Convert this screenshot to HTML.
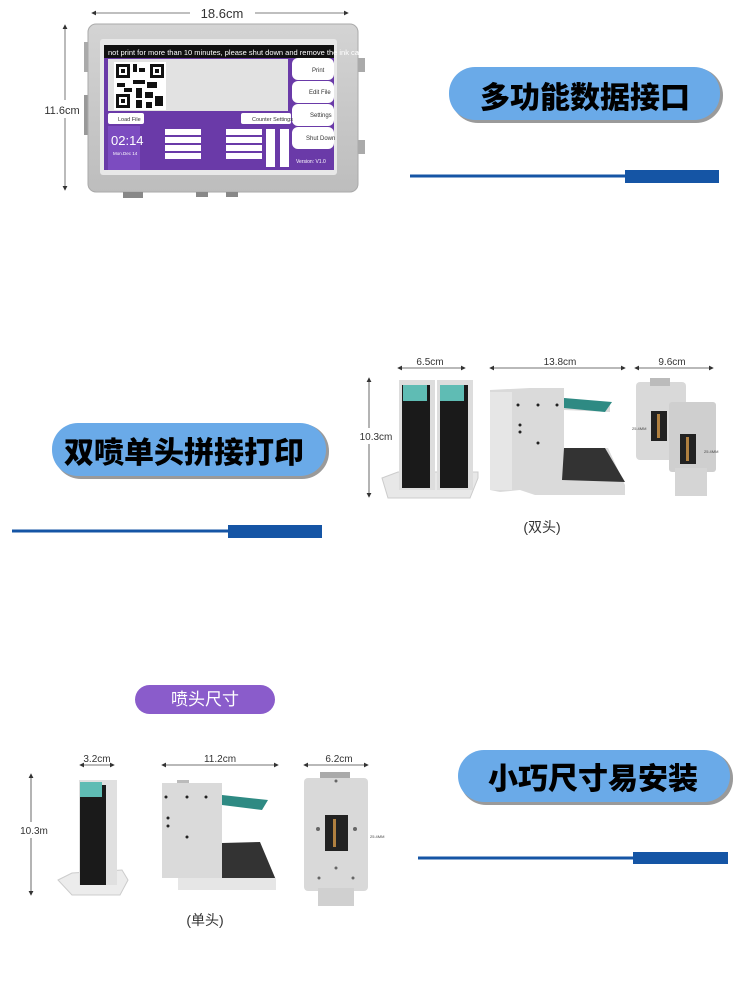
<!DOCTYPE html>
<html><head><meta charset="utf-8"><style>
html,body{margin:0;padding:0;background:#fff;width:750px;height:1000px;overflow:hidden}
svg{display:block}
text{font-family:"Liberation Sans","Noto Sans CJK SC",sans-serif}
.cj{font-family:"Liberation Sans","Noto Sans CJK SC",sans-serif;font-weight:900}
</style></head><body>
<svg width="750" height="1000" viewBox="0 0 750 1000" xmlns="http://www.w3.org/2000/svg">
<defs>
<marker id="ar" markerWidth="6" markerHeight="6" refX="5" refY="3" orient="auto"><path d="M0,0 L6,3 L0,6z" fill="#333"/></marker>
<marker id="al" markerWidth="6" markerHeight="6" refX="1" refY="3" orient="auto"><path d="M6,0 L0,3 L6,6z" fill="#333"/></marker>
<linearGradient id="metal" x1="0" y1="0" x2="0" y2="1"><stop offset="0" stop-color="#d4d4d4"/><stop offset="1" stop-color="#bdbdbd"/></linearGradient>
</defs>

<!-- TOP DEVICE -->
<line x1="92" y1="13" x2="348" y2="13" stroke="#555" stroke-width="0.8" marker-start="url(#al)" marker-end="url(#ar)"/>
<rect x="190" y="4" width="65" height="18" fill="#fff"/>
<text x="222" y="18" font-size="13" text-anchor="middle" fill="#333">18.6cm</text>
<line x1="65" y1="25" x2="65" y2="190" stroke="#555" stroke-width="0.8" marker-start="url(#al)" marker-end="url(#ar)"/>
<rect x="42" y="100" width="44" height="18" fill="#fff"/>
<text x="62" y="114" font-size="11" text-anchor="middle" fill="#333">11.6cm</text>
<rect x="84" y="42" width="8" height="30" fill="#aaa"/>
<rect x="84" y="95" width="8" height="40" fill="#999"/>
<rect x="357" y="58" width="8" height="14" fill="#aaa"/>
<rect x="357" y="140" width="8" height="14" fill="#aaa"/>
<rect x="88" y="24" width="270" height="168" rx="8" fill="url(#metal)" stroke="#aaa"/>
<rect x="100" y="39" width="237" height="136" rx="3" fill="#e8e8e8"/>
<rect x="104" y="45" width="230" height="13" fill="#111"/>
<text x="108" y="55" font-size="7.5" fill="#fff">not print for more than 10 minutes, please shut down and remove the ink ca</text>
<rect x="104" y="58" width="230" height="112" fill="#6a3aa8"/>
<rect x="108" y="59" width="180" height="52" fill="#e2e2e2"/>
<rect x="114" y="62" width="52" height="48" fill="#fff"/>
<g fill="#111">
<rect x="116" y="64" width="14" height="14"/><rect x="119" y="67" width="8" height="8" fill="#fff"/><rect x="121" y="69" width="4" height="4"/>
<rect x="150" y="64" width="14" height="14"/><rect x="153" y="67" width="8" height="8" fill="#fff"/><rect x="155" y="69" width="4" height="4"/>
<rect x="116" y="94" width="14" height="14"/><rect x="119" y="97" width="8" height="8" fill="#fff"/><rect x="121" y="99" width="4" height="4"/>
<rect x="133" y="64" width="4" height="8"/><rect x="139" y="68" width="6" height="4"/><rect x="133" y="80" width="12" height="4"/><rect x="117" y="83" width="8" height="4"/>
<rect x="147" y="82" width="10" height="6"/><rect x="136" y="88" width="6" height="10"/><rect x="145" y="92" width="8" height="6"/><rect x="155" y="96" width="8" height="10"/><rect x="136" y="100" width="6" height="8"/><rect x="146" y="102" width="6" height="6"/><rect x="124" y="88" width="8" height="4"/>
</g>
<rect x="292" y="58" width="42" height="22" rx="6" fill="#fff"/><text x="312" y="72" font-size="6" fill="#333">Print</text>
<rect x="292" y="81" width="42" height="22" rx="6" fill="#fff"/><text x="309" y="94" font-size="6" fill="#333">Edit File</text>
<rect x="292" y="104" width="42" height="22" rx="6" fill="#fff"/><text x="310" y="117" font-size="6" fill="#333">Settings</text>
<rect x="292" y="127" width="42" height="22" rx="6" fill="#fff"/><text x="306" y="140" font-size="6" fill="#333">Shut Down</text>
<rect x="108" y="113" width="36" height="11" rx="2" fill="#fff"/><text x="118" y="121" font-size="5.5" fill="#333">Load File</text>
<rect x="241" y="113" width="50" height="11" rx="2" fill="#fff"/><text x="252" y="121" font-size="5.5" fill="#333">Counter Settings</text>
<rect x="108" y="126" width="32" height="44" fill="#7c4cc0"/>
<text x="111" y="145" font-size="13" fill="#fff">02:14</text>
<text x="113" y="155" font-size="4.5" fill="#fff">Mon.Dec 14</text>
<g fill="#fff">
<rect x="165" y="129" width="36" height="6"/><rect x="165" y="137" width="36" height="6"/><rect x="165" y="145" width="36" height="6"/><rect x="165" y="153" width="36" height="6"/>
<rect x="226" y="129" width="36" height="6"/><rect x="226" y="137" width="36" height="6"/><rect x="226" y="145" width="36" height="6"/><rect x="226" y="153" width="36" height="6"/>
<rect x="266" y="129" width="9" height="38"/><rect x="280" y="129" width="9" height="38"/>
</g>
<text x="296" y="163" font-size="5" fill="#fff">Version: V1.0</text>
<rect x="123" y="192" width="20" height="6" fill="#888"/><rect x="196" y="192" width="12" height="5" fill="#888"/><rect x="226" y="192" width="12" height="5" fill="#888"/>

<!-- Pill 1 -->
<rect x="451" y="68" width="272" height="55" rx="27" fill="#9a9a9a"/>
<rect x="449" y="67" width="271" height="53" rx="26" fill="#6aaae8"/>
<text x="480" y="108" font-size="30" class="cj" fill="#000">多功能数据接口</text>
<line x1="410" y1="176" x2="626" y2="176" stroke="#1555a5" stroke-width="3"/>
<rect x="625" y="170" width="94" height="13" fill="#1555a5"/>

<!-- Pill 2 -->
<rect x="54" y="424" width="275" height="55" rx="27" fill="#9a9a9a"/>
<rect x="52" y="423" width="274" height="53" rx="26" fill="#6aaae8"/>
<text x="64" y="463" font-size="30" class="cj" fill="#000">双喷单头拼接打印</text>
<line x1="12" y1="531" x2="230" y2="531" stroke="#1555a5" stroke-width="3"/>
<rect x="228" y="525" width="94" height="13" fill="#1555a5"/>

<!-- Middle dual heads -->
<line x1="398" y1="368" x2="465" y2="368" stroke="#444" stroke-width="0.8" marker-start="url(#al)" marker-end="url(#ar)"/>
<text x="430" y="365" font-size="10" text-anchor="middle" fill="#333">6.5cm</text>
<line x1="490" y1="368" x2="625" y2="368" stroke="#444" stroke-width="0.8" marker-start="url(#al)" marker-end="url(#ar)"/>
<text x="560" y="365" font-size="10" text-anchor="middle" fill="#333">13.8cm</text>
<line x1="635" y1="368" x2="713" y2="368" stroke="#444" stroke-width="0.8" marker-start="url(#al)" marker-end="url(#ar)"/>
<text x="672" y="365" font-size="10" text-anchor="middle" fill="#333">9.6cm</text>
<line x1="369" y1="378" x2="369" y2="497" stroke="#444" stroke-width="0.8" marker-start="url(#al)" marker-end="url(#ar)"/>
<rect x="356" y="428" width="38" height="16" fill="#fff"/>
<text x="376" y="440" font-size="10" text-anchor="middle" fill="#333">10.3cm</text>
<path d="M382,478 L398,472 L478,472 L478,478 L470,498 L388,498z" fill="#e8e8e8" stroke="#ccc"/>
<rect x="399" y="380" width="36" height="110" fill="#ddd"/>
<rect x="402" y="385" width="28" height="103" fill="#1a1a1a"/>
<rect x="403" y="385" width="24" height="16" fill="#5fbcb4"/>
<rect x="437" y="380" width="36" height="110" fill="#ddd"/>
<rect x="440" y="385" width="28" height="103" fill="#1a1a1a"/>
<rect x="440" y="385" width="24" height="16" fill="#5fbcb4"/>
<path d="M490,390 L530,388 L564,388 L564,398 L610,405 L610,412 L564,410 L564,450 L608,448 L625,485 L625,495 L535,495 L520,490 L500,492 L490,490z" fill="#dadada"/>
<rect x="490" y="392" width="22" height="98" fill="#e6e6e6"/>
<path d="M564,448 L605,448 L625,482 L562,480z" fill="#333"/>
<path d="M564,398 L612,402 L605,412 L564,408z" fill="#2e8a83"/>
<g fill="#222"><circle cx="518" cy="405" r="1.5"/><circle cx="538" cy="405" r="1.5"/><circle cx="557" cy="405" r="1.5"/><circle cx="520" cy="425" r="1.5"/><circle cx="520" cy="432" r="1.5"/><circle cx="538" cy="443" r="1.5"/></g>
<rect x="636" y="382" width="50" height="78" rx="4" fill="#d9d9d9"/>
<rect x="650" y="378" width="20" height="8" fill="#bbb"/>
<rect x="669" y="402" width="47" height="70" rx="3" fill="#cfcfcf"/>
<rect x="675" y="468" width="32" height="28" fill="#d5d5d5"/>
<rect x="651" y="411" width="16" height="30" fill="#222"/><rect x="657" y="414" width="3" height="24" fill="#b08040"/>
<rect x="680" y="434" width="16" height="30" fill="#222"/><rect x="686" y="437" width="3" height="24" fill="#b08040"/>
<text x="632" y="430" font-size="4" fill="#444">25.4MM</text>
<text x="704" y="453" font-size="4" fill="#444">25.4MM</text>
<text x="542" y="532" font-size="14" text-anchor="middle" fill="#333">(双头)</text>

<!-- Purple pill -->
<rect x="135" y="685" width="140" height="29" rx="14.5" fill="#8a5ccb"/>
<text x="205" y="705" font-size="17" text-anchor="middle" fill="#fff" font-family="Liberation Sans,Noto Sans CJK SC,sans-serif">喷头尺寸</text>

<!-- Bottom single heads -->
<line x1="80" y1="765" x2="114" y2="765" stroke="#444" stroke-width="0.8" marker-start="url(#al)" marker-end="url(#ar)"/>
<text x="97" y="762" font-size="10" text-anchor="middle" fill="#333">3.2cm</text>
<line x1="162" y1="765" x2="278" y2="765" stroke="#444" stroke-width="0.8" marker-start="url(#al)" marker-end="url(#ar)"/>
<text x="220" y="762" font-size="10" text-anchor="middle" fill="#333">11.2cm</text>
<line x1="304" y1="765" x2="368" y2="765" stroke="#444" stroke-width="0.8" marker-start="url(#al)" marker-end="url(#ar)"/>
<text x="339" y="762" font-size="10" text-anchor="middle" fill="#333">6.2cm</text>
<line x1="31" y1="774" x2="31" y2="895" stroke="#444" stroke-width="0.8" marker-start="url(#al)" marker-end="url(#ar)"/>
<rect x="16" y="822" width="34" height="16" fill="#fff"/>
<text x="34" y="834" font-size="10" text-anchor="middle" fill="#333">10.3m</text>
<path d="M58,880 L72,873 L122,870 L128,880 L120,895 L72,895z" fill="#ececec" stroke="#ccc"/>
<rect x="79" y="780" width="38" height="105" fill="#e0e0e0"/>
<rect x="80" y="785" width="26" height="100" fill="#1a1a1a"/>
<rect x="80" y="782" width="22" height="15" fill="#5fbcb4"/>
<rect x="177" y="780" width="12" height="8" fill="#bbb"/>
<rect x="162" y="783" width="60" height="95" fill="#dadada"/>
<path d="M222,843 L260,842 L276,880 L222,880z" fill="#333"/>
<path d="M222,795 L268,800 L262,810 L222,805z" fill="#2e8a83"/>
<rect x="178" y="878" width="98" height="12" fill="#e6e6e6"/>
<g fill="#222"><circle cx="166" cy="797" r="1.5"/><circle cx="187" cy="797" r="1.5"/><circle cx="206" cy="797" r="1.5"/><circle cx="168" cy="818" r="1.5"/><circle cx="168" cy="826" r="1.5"/><circle cx="187" cy="837" r="1.5"/></g>
<rect x="320" y="772" width="30" height="8" fill="#aaa"/>
<rect x="304" y="778" width="64" height="113" rx="4" fill="#d9d9d9"/>
<rect x="318" y="888" width="36" height="18" fill="#d0d0d0"/>
<rect x="325" y="815" width="23" height="36" fill="#222"/><rect x="333" y="819" width="3" height="28" fill="#b08040"/>
<g fill="#666"><circle cx="336" cy="781" r="1.5"/><circle cx="318" cy="829" r="2"/><circle cx="355" cy="829" r="2"/><circle cx="336" cy="868" r="1.5"/><circle cx="319" cy="878" r="1.5"/><circle cx="353" cy="878" r="1.5"/></g>
<text x="370" y="838" font-size="4" fill="#444">25.4MM</text>
<text x="205" y="925" font-size="14" text-anchor="middle" fill="#333">(单头)</text>

<!-- Pill 3 -->
<rect x="460" y="752" width="273" height="53" rx="26" fill="#9a9a9a"/>
<rect x="458" y="750" width="272" height="52" rx="26" fill="#6aaae8"/>
<text x="488" y="789" font-size="30" class="cj" fill="#000">小巧尺寸易安装</text>
<line x1="418" y1="858" x2="635" y2="858" stroke="#1555a5" stroke-width="3"/>
<rect x="633" y="852" width="95" height="12" fill="#1555a5"/>
</svg>
</body></html>
